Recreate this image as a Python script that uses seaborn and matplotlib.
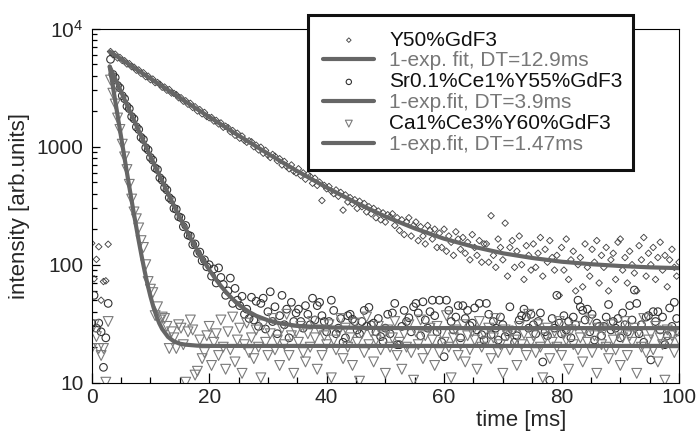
"""
Luminescence decay curves of Ce-doped GdF3 samples with single exponential fits
"""

import numpy as np
import matplotlib
matplotlib.use('Agg')
import matplotlib.pyplot as plt
import seaborn as sns
from matplotlib.ticker import (FixedLocator, FixedFormatter, MultipleLocator,
                               LogLocator, NullFormatter)

sns.set_style("ticks")
plt.rcParams['font.family'] = ['Liberation Sans', 'DejaVu Sans']
plt.rcParams['mathtext.fontset'] = 'custom'
plt.rcParams['mathtext.rm'] = 'Liberation Sans'

# time axis of the traces [ms], one sample every 0.4 ms
time_ms = np.arange(0, 100.2, 0.4)

# Y50%GdF3 (diamonds)
y50 = [152, 76, 111, 142, 50, 72, 73, 149,
       6400, 6020, 6080, 5650, 5700, 5380, 5350, 5020, 5050, 4760,
       4720, 4450, 4470, 4180, 4230, 3920, 3960, 3700, 3740, 3490,
       3500, 3380, 3190, 3200, 3010, 3050, 2850, 2830, 2760, 2600,
       2600, 2430, 2450, 2290, 2330, 2150, 2180, 2010, 2060, 1900,
       1950, 1800, 1760, 1770, 1650, 1670, 1560, 1590, 1460, 1490,
       1450, 1340, 1370, 1250, 1300, 1180, 1230, 1130, 1090, 1120,
       1100, 1000, 1030, 940, 990, 880, 930, 850, 810, 860,
       830, 760, 790, 700, 750, 680, 650, 700, 620, 600,
       650, 570, 600, 530, 580, 560, 490, 540, 470, 500,
       350, 470, 440, 460, 420, 400, 430, 380, 410, 290,
       390, 340, 370, 330, 355, 300, 345, 310, 330, 280,
       310, 270, 300, 250, 285, 240, 275, 230, 265, 255,
       270, 215, 250, 195, 240, 180, 230, 250, 175, 215,
       230, 160, 210, 175, 150, 215, 195, 165, 200, 140,
       185, 140, 200, 130, 175, 155, 120, 190, 165, 135,
       170, 125, 155, 110, 180, 140, 120, 160, 105, 150,
       150, 105, 260, 120, 95, 165, 140, 110, 225, 80,
       140, 160, 95, 130, 175, 100, 75, 145, 120, 90,
       150, 95, 125, 170, 80, 135, 105, 160, 115, 90,
       120, 55, 140, 90, 165, 75, 110, 130, 60, 100,
       115, 65, 150, 95, 80, 135, 105, 160, 70, 120,
       95, 140, 60, 110, 125, 75, 155, 165, 90, 115,
       70, 130, 100, 85, 60, 145, 110, 170, 80, 125,
       100, 140, 75, 115, 155, 90, 120, 65, 110, 135,
       95, 80, 105]

# Sr0.1%Ce1%Y55%GdF3 (circles)
sr_ce = [32, 55, 29, 32, 27, 13.5, 24, 47,
         5500, 4100, 3850, 3300, 3150, 2700, 2550, 2200, 2100, 1800,
         1720, 1470, 1400, 1200, 1150, 980, 940, 810, 770, 660,
         640, 545, 520, 450, 430, 370, 355, 300, 295, 255,
         250, 210, 215, 178, 175, 148, 150, 125, 128, 108,
         110, 96, 100, 80, 92, 70, 94, 78, 68, 55,
         60, 77, 47, 63, 50, 45, 54, 38, 42, 35,
         53, 34, 49, 30, 47, 52, 28.5, 40, 59, 33,
         44, 26, 37, 55, 31, 42, 24, 48, 33, 39,
         42, 33, 29, 45, 38, 31, 52, 34, 45, 48,
         37, 33, 27, 33, 50, 41, 26, 29, 35, 22,
         24, 37, 38, 34.5, 33, 28, 26, 33, 41, 30,
         43.5, 31, 32, 27, 35, 24.6, 22.5, 29, 38, 26,
         39, 47, 21, 21, 30, 41, 33, 35.5, 27, 44,
         47, 39, 25, 48.5, 34, 29, 40, 50, 37, 27,
         50, 22, 16.6, 50, 41, 33, 28, 36, 45, 24,
         45, 35, 41, 30.5, 32, 43, 28, 47, 25.5, 23,
         47, 38, 25.5, 33, 29, 23, 36, 31, 24.6, 27,
         44, 28, 22, 25, 34, 37, 42, 36, 29, 38,
         31, 26, 33, 39, 15, 27, 25, 10.5, 35, 29,
         55, 32, 26, 37, 28, 33, 24, 36, 31, 50,
         44, 41, 34, 42, 27, 38, 23, 32, 30, 25,
         30, 36, 46, 28, 33, 29, 35, 24, 39, 31,
         27, 45, 34, 61, 47, 26, 31, 22, 36, 37,
         15.6, 40, 33, 40, 28, 36, 21, 25, 43, 30,
         48, 35, 27]

# Ca1%Ce3%Y60%GdF3 (triangles)
ca_ce = [19.5, 31, 24.6, 19.5, 17, 19.5, 10.1, 33,
         3670, 2840, 2300, 1750, 1400, 1050, 820, 640, 480, 360,
         280, 245, 205, 160, 140, 100, 72, 62, 58, 37,
         44, 34, 36, 35, 30, 19.5, 27, 24, 19.5, 31,
         29, 21, 10.1, 27, 34, 28, 11.6, 12.5, 23, 16,
         18, 25, 30, 14, 22, 26, 17, 34, 20, 13,
         27, 19, 36, 15, 23, 29, 12, 21, 32, 18,
         24, 16, 28, 20, 11, 31, 22, 17, 26, 35,
         19, 23, 14, 29, 21, 38, 17, 25, 12, 27,
         22, 30, 18, 15, 26, 20, 33, 24, 13, 28,
         17, 25, 21, 31, 11, 23, 19, 27, 35, 16,
         29, 20, 24, 14, 32, 22, 10.3, 26, 18, 36,
         21, 27, 15, 23, 30, 19, 25, 12, 28, 20,
         24, 33, 17, 22, 13, 26, 20, 31, 18, 10.5,
         27, 21, 34, 16, 25, 19, 29, 23, 14, 30,
         18, 26, 22, 37, 20, 11, 24, 28, 17, 21,
         31, 15, 25, 19, 27, 23, 13, 33, 20, 26,
         22, 29, 16, 24, 35, 18, 21, 12, 28, 25,
         19, 27, 23, 14, 30, 21, 26, 17, 38, 22,
         25, 18, 31, 20, 11, 24, 29, 16, 22, 27,
         20, 33, 17, 26, 23, 13, 28, 21, 30, 19,
         24, 15, 27, 22, 34, 18, 25, 12, 29, 21,
         28, 20, 16, 31, 23, 19, 26, 14, 24, 33,
         17, 25, 22, 29, 12, 27, 20, 35, 18, 23,
         26, 19, 30, 15, 24, 21, 10.5, 28, 22, 25,
         18, 27, 23]

fit_y50_t = [3.1, 6, 10, 15, 20, 25, 30, 35, 40, 45, 50, 55, 60, 65, 70,
             75, 80, 85, 90, 95, 100]
fit_y50 = [6390, 5120, 3780, 2590, 1790, 1243, 873, 621, 451, 335, 256, 203,
           166, 142, 125, 114, 106, 101, 97.5, 95, 93.5]

fit_sr_t = [3.06, 4, 5, 6, 7, 8, 9, 10, 11, 12, 13, 14, 15, 16, 17, 18, 19,
            20, 21, 22, 23, 24, 25, 26, 27, 28, 30, 32, 35, 40, 50, 100]
fit_sr = [4780, 3760, 2920, 2260, 1760, 1370, 1064, 831, 649, 509, 400, 316,
          251, 201, 162, 132, 109, 90.7, 76.7, 66, 57.6, 51.1, 46.1, 42.2,
          39.3, 36.9, 33.8, 31.9, 30.3, 29.4, 29.05, 29]

fit_ca_t = [3.06, 3.5, 4, 4.5, 5, 5.5, 6, 6.5, 7, 7.5, 8, 8.5, 9, 9.5, 10,
            10.5, 11, 11.5, 12, 13, 14, 15, 16, 18, 20, 100]
fit_ca = [4770, 3490, 2450, 1720, 1210, 851, 602, 427, 305, 220, 160, 118,
          88.7, 68.2, 53.9, 43.9, 36.9, 31.9, 28.5, 24.4, 22.4, 21.4, 21,
          20.6, 20.5, 20.5]

series = [
    (y50, 'D', 11, '#444444', 0.65, 'Y50%GdF3',
     fit_y50_t, fit_y50, '1-exp. fit, DT=12.9ms'),
    (sr_ce, 'o', 30, '#333333', 0.8, 'Sr0.1%Ce1%Y55%GdF3',
     fit_sr_t, fit_sr, '1-exp.fit, DT=3.9ms'),
    (ca_ce, 'v', 50, '#7a7a7a', 0.8, 'Ca1%Ce3%Y60%GdF3',
     fit_ca_t, fit_ca, '1-exp.fit, DT=1.47ms'),
]

fig = plt.figure(figsize=(6.98, 4.32), dpi=100)
ax = fig.add_axes([0.1314, 0.1141, 0.8414, 0.8195])

for vals, mk, size, ec, lw, name, ft, fv, fit_name in series:
    sns.scatterplot(x=time_ms, y=vals, marker=mk, s=size, facecolor='none',
                    edgecolor=ec, linewidth=lw, label=name, ax=ax, zorder=2)
    sns.lineplot(x=ft, y=fv, color='#666666', linewidth=3, label=fit_name,
                 ax=ax, zorder=3)

ax.set_yscale('log')
ax.set_xlim(0, 100)
ax.set_ylim(10, 1e4)

ax.xaxis.set_major_locator(MultipleLocator(20))
ax.xaxis.set_minor_locator(MultipleLocator(5))
ax.yaxis.set_major_locator(FixedLocator([10, 100, 1000, 10000]))
ax.yaxis.set_major_formatter(FixedFormatter(['10', '100', '1000',
                                             r'$\mathregular{10^4}$']))
ax.yaxis.set_minor_locator(LogLocator(base=10, subs=np.arange(2, 10)))
ax.yaxis.set_minor_formatter(NullFormatter())

ax.tick_params(which='both', direction='in', top=False, right=False,
               width=0.9, color='black')
ax.tick_params(axis='x', which='major', length=7, labelsize=15, pad=4)
ax.tick_params(axis='x', which='minor', length=4.3)
ax.tick_params(axis='y', which='major', length=6, labelsize=15, pad=6)
ax.tick_params(axis='y', which='minor', length=3.6)
for sp in ax.spines.values():
    sp.set_linewidth(0.8)
    sp.set_color('black')

ax.set_ylabel('intensity [arb.units]', fontsize=16, labelpad=5)
ax.set_xlabel('time [ms]', fontsize=16)
ax.xaxis.set_label_coords(0.731, -0.076)

# legend box sits over the top edge of the axes
handles, labels = ax.get_legend_handles_labels()
leg = ax.legend(handles, labels, loc='upper left',
                bbox_to_anchor=(0.4408, 0.60, 0.4661, 0.3653),
                bbox_transform=fig.transFigure, mode='expand',
                borderaxespad=0, fontsize=15, frameon=True, fancybox=False,
                edgecolor='#111111', framealpha=1, borderpad=0.75,
                labelspacing=0.09, handlelength=2.45, handletextpad=0.72,
                markerscale=0.7)
leg.get_frame().set_linewidth(2.2)
leg.set_zorder(5)
for i, txt in enumerate(leg.get_texts()):
    txt.set_color('#111111' if i % 2 == 0 else '#777777')

plt.savefig('out.png', dpi=100)
plt.close()
